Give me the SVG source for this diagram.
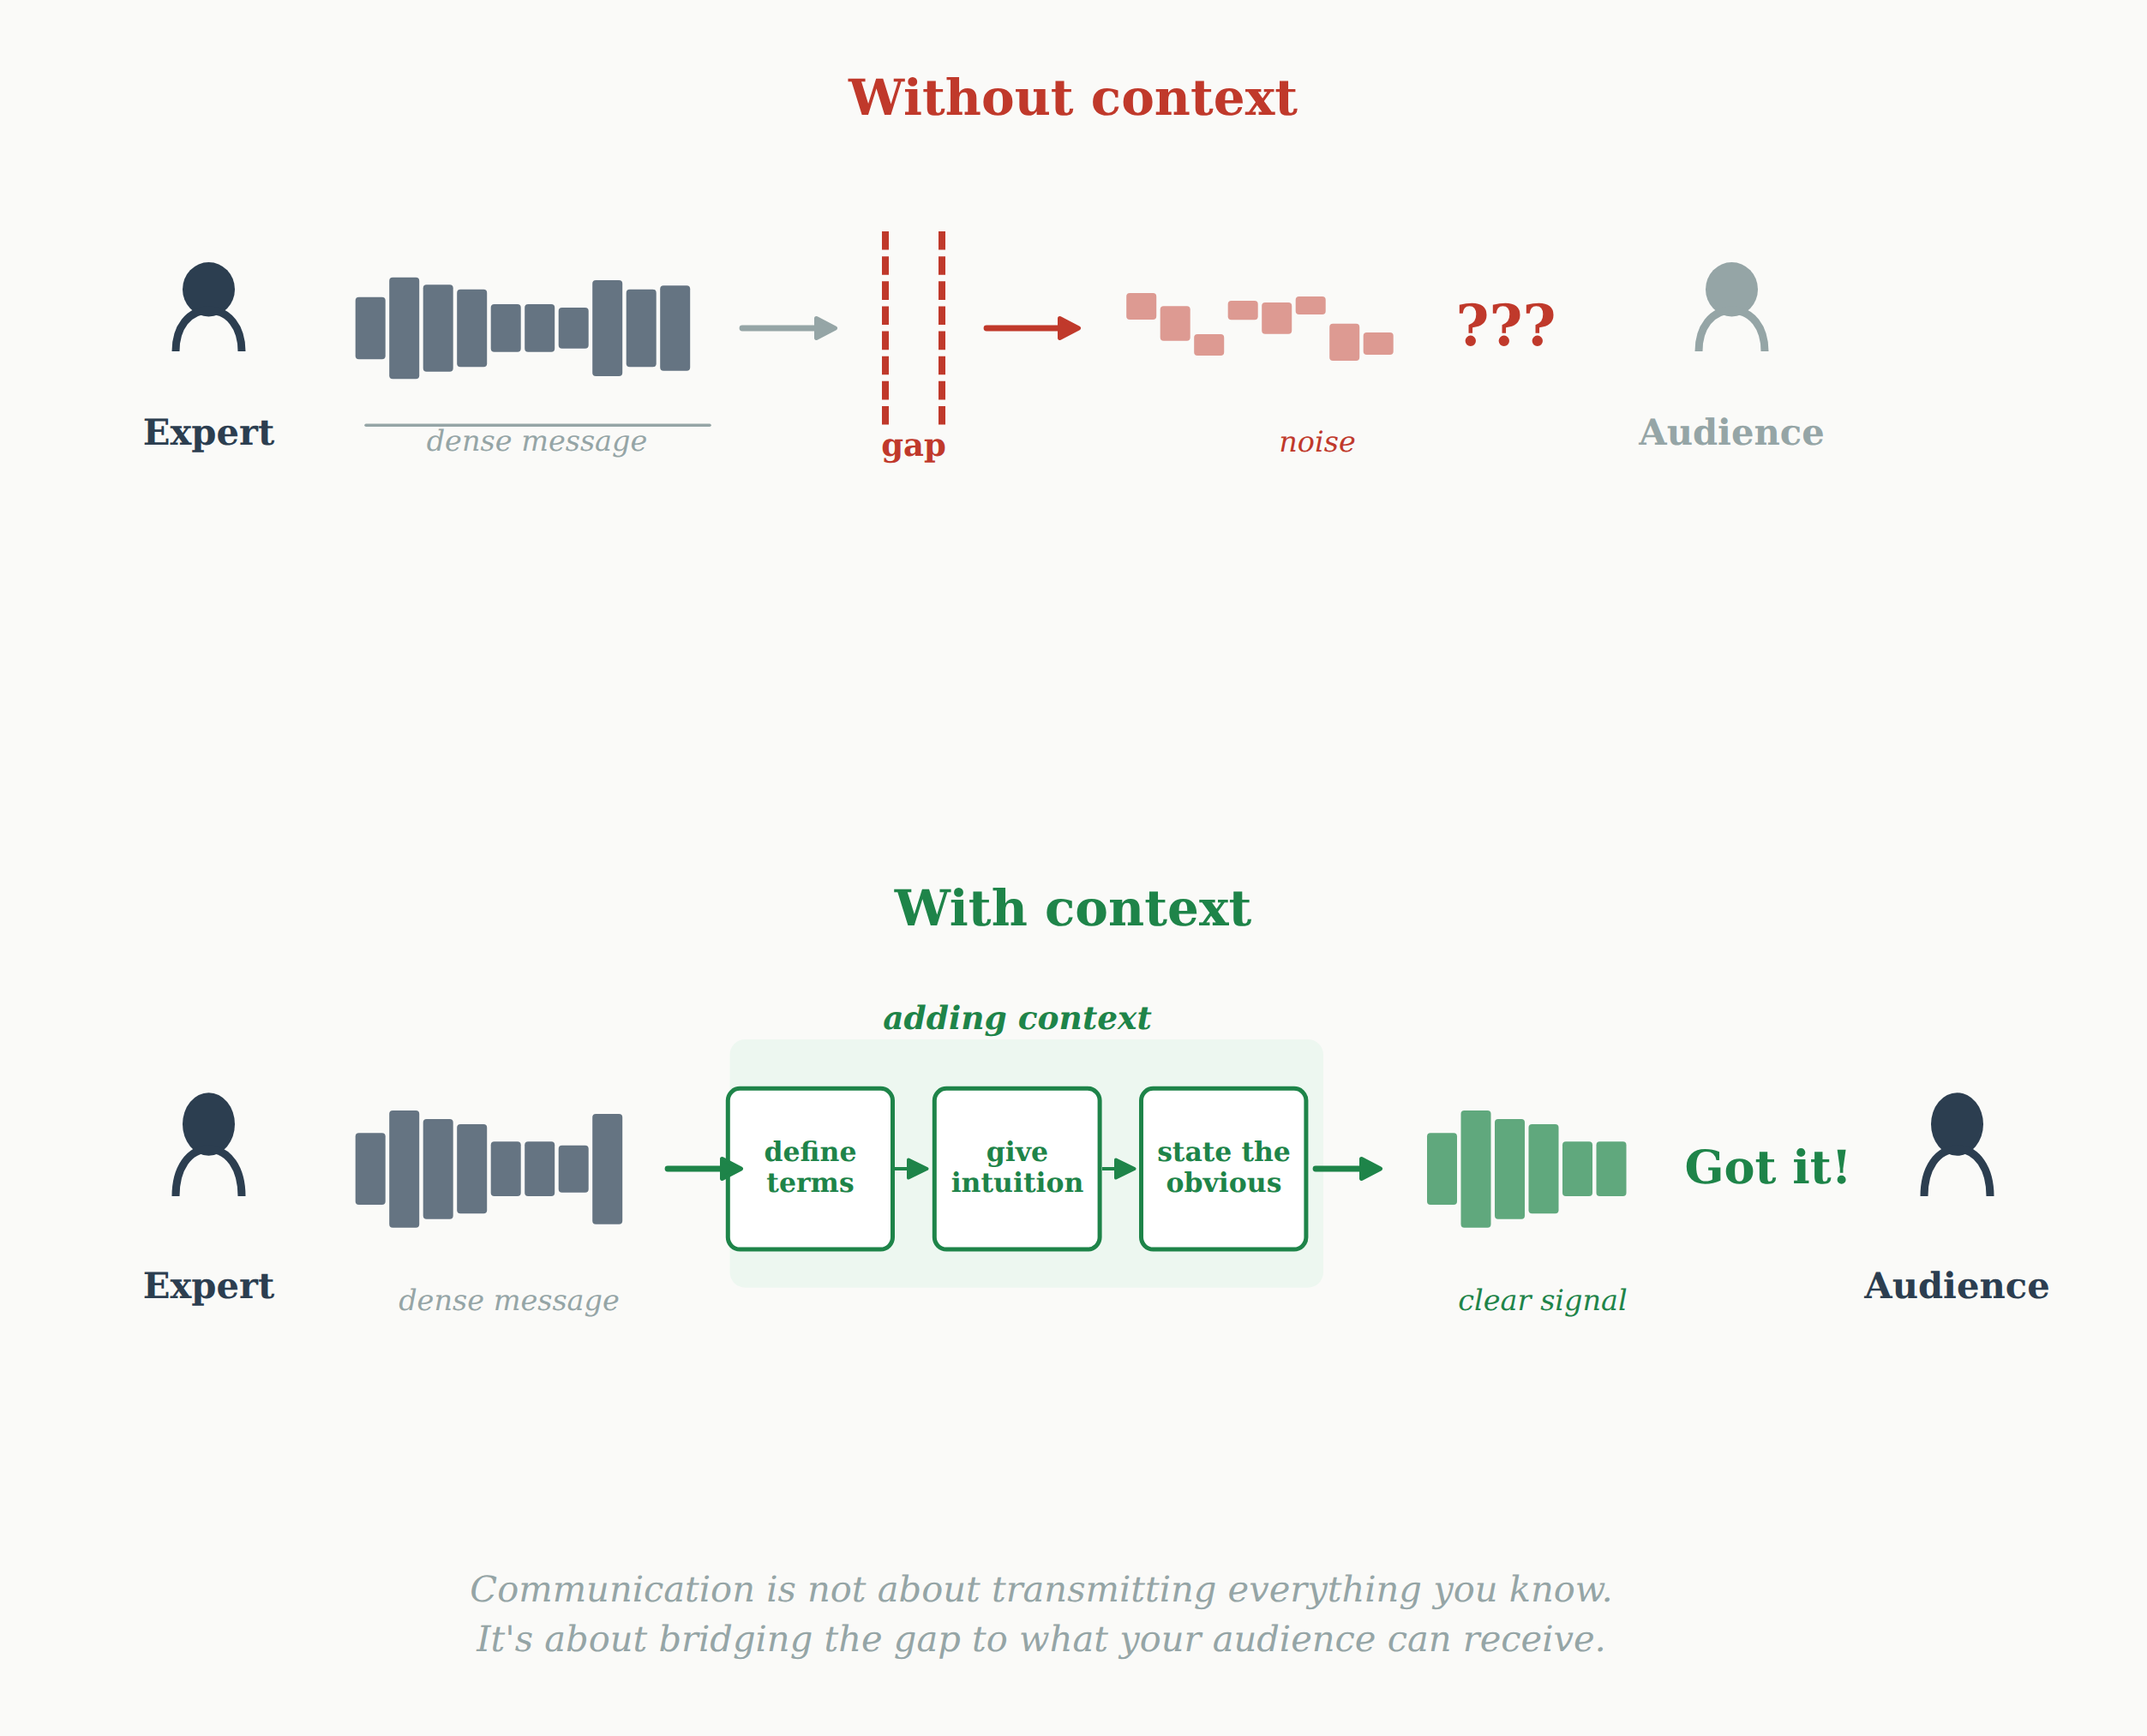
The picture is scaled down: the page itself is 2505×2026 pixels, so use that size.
<svg xmlns="http://www.w3.org/2000/svg" width="2505" height="2026" viewBox="0 0 2505 2026">
<style>
text{font-family:"DejaVu Serif",serif;text-anchor:middle;text-rendering:geometricPrecision}
.b{font-weight:700}.i{font-style:italic}
.navy{fill:#2c3e50}.gray{fill:#95a5a6}.red{fill:#c0392b}.green{fill:#1e8449}
.title{font-size:58px;font-weight:700}
.who{font-size:41.7px;font-weight:700}
.sub{font-size:33.5px;font-style:italic}
.step{font-size:31.5px;font-weight:700}
.foot{font-size:41.6px;font-style:italic;fill:#95a5a6}
.body{fill:none;stroke-width:9}
.gbar rect{fill:#657482}
.rbar rect{fill:#c0392b;fill-opacity:.5}
.cbar rect{fill:#1e8449;fill-opacity:.7}
.box{fill:#fff;stroke:#1e8449;stroke-width:5}
.ln{fill:none;stroke-width:6.8;stroke-linecap:round}
.thin{stroke-width:4;stroke-linecap:butt}
.dash{stroke:#c0392b;stroke-width:8;stroke-dasharray:21.6 7.54;fill:none}
</style>
<defs>
<marker id="mg" markerUnits="userSpaceOnUse" markerWidth="32" markerHeight="32" refX="2" refY="16" orient="auto" viewBox="0 0 32 32"><path d="M4.5 4.5L26.5 16L4.5 27.5Z" fill="#95a5a6" stroke="#95a5a6" stroke-width="5" stroke-linejoin="round"/></marker>
<marker id="mr" markerUnits="userSpaceOnUse" markerWidth="32" markerHeight="32" refX="2" refY="16" orient="auto" viewBox="0 0 32 32"><path d="M4.5 4.5L26.5 16L4.5 27.5Z" fill="#c0392b" stroke="#c0392b" stroke-width="5" stroke-linejoin="round"/></marker>
<marker id="mv" markerUnits="userSpaceOnUse" markerWidth="32" markerHeight="32" refX="2" refY="16" orient="auto" viewBox="0 0 32 32"><path d="M4.5 4.5L26.5 16L4.5 27.5Z" fill="#1e8449" stroke="#1e8449" stroke-width="5" stroke-linejoin="round"/></marker>
<marker id="ms" markerUnits="userSpaceOnUse" markerWidth="32" markerHeight="32" refX="2" refY="16" orient="auto" viewBox="0 0 32 32"><path d="M4 5.5L25.5 16L4 26.5Z" fill="#1e8449" stroke="#1e8449" stroke-width="4" stroke-linejoin="round"/></marker>
</defs>
<rect width="2505" height="2026" fill="#fafaf8"/>
<text class="title red" x="1252" y="134">Without context</text>
<text class="title green" x="1252" y="1080">With context</text>
<g id="expert-top"><ellipse class="navy" cx="243.5" cy="337.7" rx="30.5" ry="31.7"/><path class="body" stroke="#2c3e50" d="M205 410C205 382 220 362 243.5 362S282 382 282 410"/><text class="who navy" x="243.5" y="519">Expert</text></g>
<g id="dense-top"><g class="gbar">
<rect x="414.7" y="346.7" width="35" height="72.6" rx="4"/><rect x="454.2" y="323.7" width="35" height="118.6" rx="4"/><rect x="493.7" y="332.3" width="35" height="101.4" rx="4"/><rect x="533.2" y="337.7" width="35" height="90.6" rx="4"/><rect x="572.7" y="355" width="35" height="55.7" rx="4"/><rect x="612.2" y="355" width="35" height="55.7" rx="4"/><rect x="651.7" y="359" width="35" height="47.7" rx="4"/><rect x="691.2" y="327" width="35" height="112" rx="4"/><rect x="730.7" y="337.7" width="35" height="90.6" rx="4"/><rect x="770.2" y="333.3" width="35" height="99.4" rx="4"/></g>
<path d="M427 496.3H828" stroke="#95a5a6" stroke-width="3.5" stroke-linecap="round"/>
<text class="sub gray" x="626.5" y="526">dense message</text></g>
<g id="gap"><path class="dash" d="M1033 270V495.7"/><path class="dash" d="M1099 270V495.7"/><text class="b red" font-size="37" x="1066" y="532">gap</text></g>
<g id="noise"><g class="rbar"><rect x="1314.2" y="342" width="35" height="31" rx="4"/><rect x="1353.7" y="357.3" width="35" height="40.4" rx="4"/><rect x="1393.2" y="390" width="35" height="25" rx="4"/><rect x="1432.7" y="351" width="35" height="22.3" rx="4"/><rect x="1472.2" y="353" width="35" height="36.7" rx="4"/><rect x="1511.7" y="346" width="35" height="21" rx="4"/><rect x="1551.2" y="377.7" width="35" height="43.3" rx="4"/><rect x="1590.7" y="388" width="35" height="26" rx="4"/></g><text class="sub red" x="1537" y="527">noise</text></g>
<text id="huh" class="b red" font-size="66.5" x="1757" y="403">???</text>
<g id="audience-top"><ellipse class="gray" cx="2020.5" cy="337.7" rx="30.5" ry="31.7"/><path class="body" stroke="#95a5a6" d="M1982 410C1982 382 1997 362 2020.5 362S2059 382 2059 410"/><text class="who gray" x="2020.5" y="519">Audience</text></g>
<rect id="context-panel" x="851.5" y="1213" width="692.5" height="289.7" rx="18" fill="#edf7f0"/>
<text class="b i green" font-size="37.5" x="1187" y="1201">adding context</text>
<g id="expert-bottom"><ellipse class="navy" cx="243.5" cy="1312" rx="30.5" ry="36.8"/><path class="body" stroke="#2c3e50" d="M205 1396C205 1364 220 1341 243.5 1341S282 1364 282 1396"/><text class="who navy" x="243.5" y="1515">Expert</text></g>
<g id="dense-bottom"><g class="gbar">
<rect x="414.7" y="1322.3" width="35" height="83.7" rx="4"/><rect x="454.2" y="1296" width="35" height="136.7" rx="4"/><rect x="493.7" y="1306" width="35" height="116.7" rx="4"/><rect x="533.2" y="1312" width="35" height="104.3" rx="4"/><rect x="572.7" y="1332.3" width="35" height="63.7" rx="4"/><rect x="612.2" y="1332.3" width="35" height="63.7" rx="4"/><rect x="651.7" y="1336.7" width="35" height="55" rx="4"/><rect x="691.2" y="1300" width="35" height="128.7" rx="4"/></g><text class="sub gray" x="594" y="1529">dense message</text></g>
<g id="step-define"><rect class="box" x="849.3" y="1270.3" width="192.2" height="187.8" rx="14"/><text class="step green" x="945.5" y="1354.5">define</text><text class="step green" x="945.5" y="1391">terms</text></g>
<g id="step-give"><rect class="box" x="1090.3" y="1270.3" width="192.8" height="187.8" rx="14"/><text class="step green" x="1187" y="1354.5">give</text><text class="step green" x="1187" y="1391">intuition</text></g>
<g id="step-state"><rect class="box" x="1331.5" y="1270.3" width="192.4" height="187.8" rx="14"/><text class="step green" x="1428" y="1354.5">state the</text><text class="step green" x="1428" y="1391">obvious</text></g>
<g id="clear"><g class="cbar"><rect x="1665" y="1322.3" width="35" height="83.7" rx="4"/><rect x="1704.5" y="1296" width="35" height="136.7" rx="4"/><rect x="1744" y="1306" width="35" height="116.7" rx="4"/><rect x="1783.5" y="1312" width="35" height="104.3" rx="4"/><rect x="1823" y="1332.3" width="35" height="63.7" rx="4"/><rect x="1862.5" y="1332.3" width="35" height="63.7" rx="4"/></g><text class="sub green" x="1800" y="1529">clear signal</text></g>
<text id="gotit" class="b green" font-size="54" x="2063" y="1381">Got it!</text>
<g id="audience-bottom"><ellipse class="navy" cx="2283.5" cy="1312" rx="30.5" ry="36.8"/><path class="body" stroke="#2c3e50" d="M2245 1396C2245 1364 2260 1341 2283.5 1341S2322 1364 2322 1396"/><text class="who navy" x="2283.5" y="1515">Audience</text></g>
<g id="connectors">
<path class="ln" stroke="#95a5a6" d="M866 383H950" marker-end="url(#mg)"/>
<path class="ln" stroke="#c0392b" d="M1151 383H1234" marker-end="url(#mr)"/>
<path class="ln" stroke="#1e8449" d="M779 1364H840" marker-end="url(#mv)"/>
<path class="ln thin" stroke="#1e8449" d="M1044 1364H1058" marker-end="url(#ms)"/>
<path class="ln thin" stroke="#1e8449" d="M1286 1364H1300" marker-end="url(#ms)"/>
<path class="ln" stroke="#1e8449" d="M1535 1364H1586" marker-end="url(#mv)"/>
</g>
<text class="foot" x="1215" y="1868.5">Communication is not about transmitting everything you know.</text>
<text class="foot" x="1215" y="1927">It's about bridging the gap to what your audience can receive.</text>
</svg>
